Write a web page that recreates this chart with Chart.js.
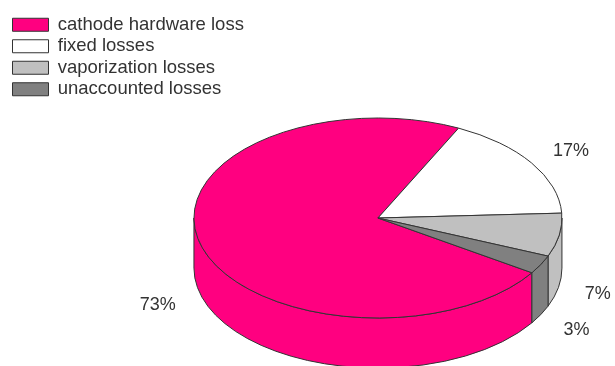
<!DOCTYPE html>
<html>
<head>
<meta charset="utf-8">
<script src="https://cdn.jsdelivr.net/npm/chart.js@4/dist/chart.umd.min.js"></script>
<style>
  html, body { margin: 0; padding: 0; background: #fff; overflow: hidden; }
  #wrap { width: 615px; height: 366px; overflow: hidden; }
</style>
</head>
<body>
<div id="wrap"><canvas id="lossChart" width="615" height="436"></canvas></div>
<script>
const categories = ["cathode hardware loss", "fixed losses", "vaporization losses", "unaccounted losses"];
const lossShares = [73, 17, 7, 3];
const sliceColors = ["#ff0080", "#ffffff", "#c0c0c0", "#808080"];

const FONT = "'Liberation Sans', Arial, sans-serif";
const EDGE = "#333333";
const TILT = 0.5435;   // ellipse height / width
const DEPTH = 0.272;   // side wall height / radius

// pieces of [s, e] that face the viewer (sin > 0)
function frontParts(s, e) {
  const parts = [];
  for (let k = -1; k <= 2; k++) {
    const lo = Math.max(s, 2 * Math.PI * k);
    const hi = Math.min(e, 2 * Math.PI * k + Math.PI);
    if (hi > lo) parts.push([lo, hi]);
  }
  return parts;
}

const pie3d = {
  id: "pie3d",
  beforeDatasetsDraw(chart) {
    const ctx = chart.ctx;
    const arcs = chart.getDatasetMeta(0).data;
    ctx.save();
    ctx.lineWidth = 1;
    ctx.strokeStyle = EDGE;
    ctx.lineJoin = "round";
    // outer wall
    arcs.forEach((arc, i) => {
      const { x, y, outerRadius, startAngle, endAngle } = arc.getProps(["x", "y", "outerRadius", "startAngle", "endAngle"]);
      const rx = outerRadius, ry = outerRadius * TILT, d = outerRadius * DEPTH;
      frontParts(startAngle, endAngle).forEach(([a, b]) => {
        ctx.beginPath();
        ctx.ellipse(x, y, rx, ry, 0, a, b);
        ctx.ellipse(x, y + d, rx, ry, 0, b, a, true);
        ctx.closePath();
        ctx.fillStyle = sliceColors[i];
        ctx.fill();
        ctx.stroke();
      });
    });
    // top faces
    arcs.forEach((arc, i) => {
      const { x, y, outerRadius, startAngle, endAngle } = arc.getProps(["x", "y", "outerRadius", "startAngle", "endAngle"]);
      ctx.beginPath();
      ctx.moveTo(x, y);
      ctx.ellipse(x, y, outerRadius, outerRadius * TILT, 0, startAngle, endAngle);
      ctx.closePath();
      ctx.fillStyle = sliceColors[i];
      ctx.fill();
      ctx.stroke();
    });
    ctx.restore();
    return false;
  },
  afterDraw(chart) {
    const ctx = chart.ctx;
    const arcs = chart.getDatasetMeta(0).data;
    ctx.save();
    ctx.font = "18px " + FONT;
    ctx.fillStyle = "#333333";
    ctx.textBaseline = "middle";
    arcs.forEach((arc, i) => {
      const { x, y, outerRadius, startAngle, endAngle } = arc.getProps(["x", "y", "outerRadius", "startAngle", "endAngle"]);
      const mid = (startAngle + endAngle) / 2;
      const c = Math.cos(mid), s = Math.sin(mid);
      // label's inner edge sits just outside the rim
      ctx.textAlign = c < 0 ? "right" : "left";
      const lx = x + outerRadius * 1.14 * c;
      const ly = y + outerRadius * TILT * 1.22 * s + (s > 0 ? outerRadius * DEPTH * 1.1 : 0);
      ctx.fillText(lossShares[i] + "%", lx, ly);
    });
    ctx.restore();
  }
};

new Chart(document.getElementById("lossChart"), {
  type: "pie",
  data: {
    labels: categories,
    datasets: [{
      data: lossShares,
      backgroundColor: sliceColors,
      borderColor: EDGE,
      borderWidth: 1,
      radius: 184
    }]
  },
  options: {
    responsive: false,
    animation: false,
    rotation: 123.2,
    layout: { padding: { left: 9.5, top: 12.5, right: 113, bottom: 12.5 } },
    plugins: {
      tooltip: { enabled: false },
      legend: {
        position: "left",
        align: "start",
        labels: {
          boxWidth: 36,
          boxHeight: 13,
          padding: 3,
          color: "#333333",
          font: { family: FONT, size: 18.5 }
        }
      }
    }
  },
  plugins: [pie3d]
});
</script>
</body>
</html>
